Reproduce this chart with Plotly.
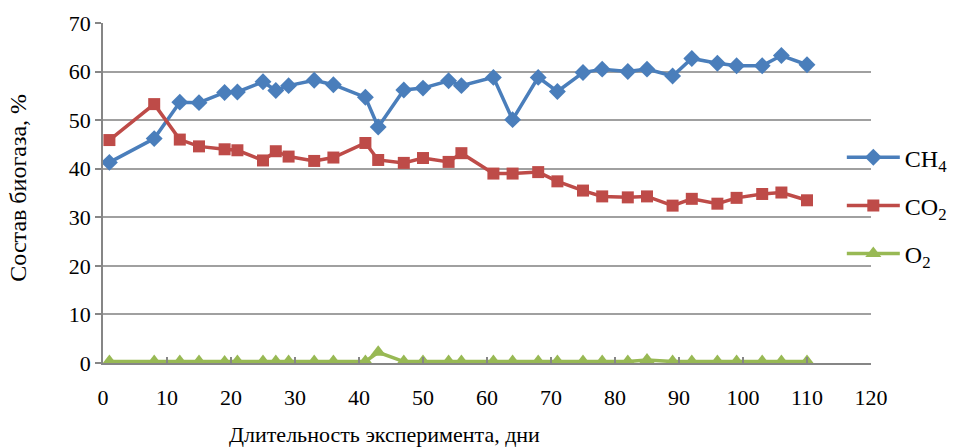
import plotly.graph_objects as go

days = [1, 8, 12, 15, 19, 21, 25, 27, 29, 33, 36, 41, 43, 47, 50, 54, 56, 61, 64, 68,
        71, 75, 78, 82, 85, 89, 92, 96, 99, 103, 106, 110]
ch4 = [41.3, 46.2, 53.7, 53.6, 55.7, 55.8, 57.9, 56.1, 57.1, 58.2, 57.3, 54.7, 48.6, 56.2,
       56.6, 58.1, 57.1, 58.8, 50.1, 58.8, 55.9, 59.8, 60.5, 60.0, 60.5, 59.1, 62.7, 61.7,
       61.2, 61.2, 63.3, 61.4]
co2 = [45.9, 53.3, 46.0, 44.6, 44.0, 43.8, 41.7, 43.6, 42.5, 41.6, 42.3, 45.3, 41.8, 41.2,
       42.2, 41.4, 43.2, 39.0, 39.0, 39.3, 37.4, 35.5, 34.3, 34.1, 34.3, 32.4, 33.8, 32.8,
       34.0, 34.8, 35.1, 33.5]
o2 = [0.3, 0.3, 0.3, 0.3, 0.2, 0.3, 0.3, 0.3, 0.3, 0.3, 0.3, 0.3, 2.2, 0.3, 0.3, 0.3,
      0.3, 0.3, 0.3, 0.3, 0.3, 0.3, 0.3, 0.3, 0.6, 0.3, 0.3, 0.3, 0.3, 0.3, 0.3, 0.3]

names = ["CH<sub>4</sub>", "CO<sub>2</sub>", "O<sub>2</sub>"]
x_title = "Длительность эксперимента, дни"
y_title = "Состав биогаза, %"

FONT = "Liberation Serif, Times New Roman, serif"

fig = go.Figure()
fig.add_trace(go.Scatter(x=days, y=ch4, name=names[0], mode="lines+markers", legendgroup="a",
                         line=dict(color="#4A7EBB", width=3.5),
                         marker=dict(symbol="diamond", size=13, color="#4A7EBB")))
fig.add_trace(go.Scatter(x=days, y=co2, name=names[1], mode="lines+markers", legendgroup="b",
                         line=dict(color="#BE4B48", width=3.5),
                         marker=dict(symbol="square", size=12, color="#BE4B48")))
fig.add_trace(go.Scatter(x=days, y=o2, name=names[2], mode="lines+markers", legendgroup="c",
                         line=dict(color="#98B954", width=3.5),
                         marker=dict(symbol="triangle-up", size=14, color="#98B954")))

fig.update_layout(
    width=953, height=447,
    margin=dict(l=103, r=82, t=23, b=84, autoexpand=False),
    paper_bgcolor="white", plot_bgcolor="white",
    font=dict(family=FONT, size=22, color="black"),
    showlegend=True,
    legend=dict(x=0.962, xanchor="left", y=0.463, yanchor="middle",
                traceorder="grouped", tracegroupgap=14,
                font=dict(family=FONT, size=24, color="black"),
                bgcolor="rgba(0,0,0,0)", itemwidth=53),
    xaxis=dict(range=[0, 120], tickvals=list(range(0, 121, 10)),
               showgrid=False, zeroline=False,
               showline=True, linecolor="#868686", linewidth=1.5,
               ticks="inside", ticklen=6, tickcolor="#868686", tickwidth=1.5,
               ticklabelstandoff=14,
               tickfont=dict(family=FONT, size=22, color="black")),
    yaxis=dict(range=[0, 70], tickvals=list(range(0, 71, 10)),
               showgrid=True, gridcolor="#A0A0A0", gridwidth=1.5, zeroline=False,
               showline=True, linecolor="#868686", linewidth=1.5,
               ticks="outside", ticklen=6, tickcolor="#868686", tickwidth=1.5,
               tickfont=dict(family=FONT, size=22, color="black")),
    annotations=[
        dict(text=x_title, xref="paper", yref="paper", x=0.366, y=-0.209,
             xanchor="center", yanchor="middle", showarrow=False,
             font=dict(family=FONT, size=22, color="black")),
        dict(text=y_title, xref="paper", yref="paper", x=-0.111, y=0.515,
             xanchor="center", yanchor="middle", textangle=-90, showarrow=False,
             font=dict(family=FONT, size=24, color="black")),
    ],
)

fig.write_html("out.html", config={"displayModeBar": False},
               post_script="document.body.style.margin='0';")
